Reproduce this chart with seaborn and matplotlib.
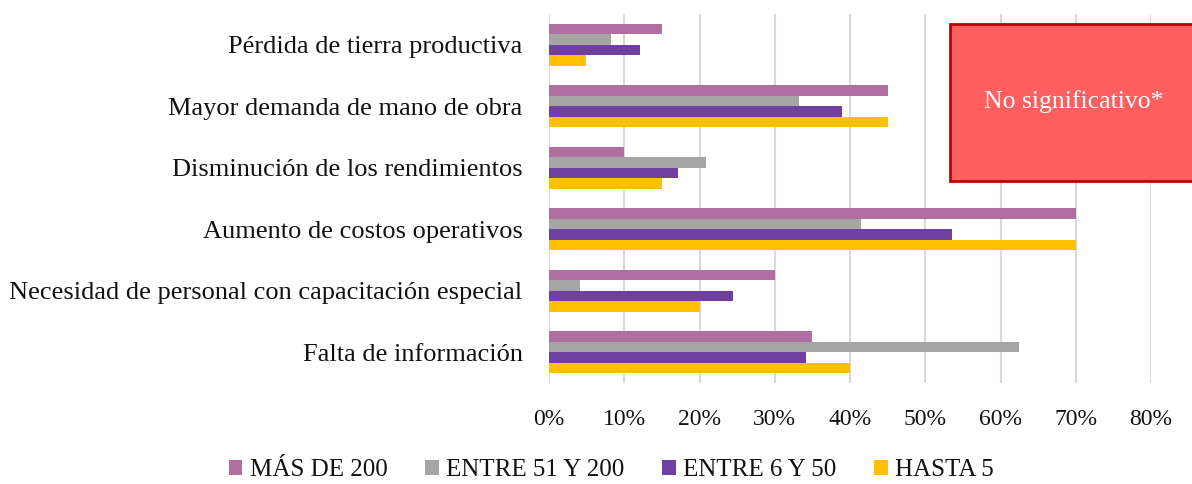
import matplotlib
matplotlib.use('Agg')
import matplotlib.pyplot as plt
import seaborn as sns
import pandas as pd
from matplotlib.patches import Rectangle
from matplotlib.ticker import PercentFormatter

categorias = ['Pérdida de tierra productiva',
              'Mayor demanda de mano de obra',
              'Disminución de los rendimientos',
              'Aumento de costos operativos',
              'Necesidad de personal con capacitación especial',
              'Falta de información']
series = ['MÁS DE 200', 'ENTRE 51 Y 200', 'ENTRE 6 Y 50', 'HASTA 5']
mas_200 = [0.15, 0.45, 0.10, 0.70, 0.30, 0.35]
entre_51_200 = [0.082, 0.332, 0.208, 0.415, 0.041, 0.625]
entre_6_50 = [0.121, 0.39, 0.171, 0.536, 0.244, 0.342]
hasta_5 = [0.049, 0.45, 0.15, 0.70, 0.20, 0.40]
colores = ['#B06FA0', '#A5A5A5', '#7040A0', '#FFC000']

df = pd.DataFrame({'categoria': categorias * 4,
                   'serie': sum([[s] * len(categorias) for s in series], []),
                   'valor': mas_200 + entre_51_200 + entre_6_50 + hasta_5})

sns.set_style('white')
plt.rcParams['font.family'] = ['Liberation Serif', 'DejaVu Serif']
plt.rcParams['text.color'] = '#111111'
plt.rcParams['xtick.color'] = '#111111'
plt.rcParams['ytick.color'] = '#111111'

fig = plt.figure(figsize=(11.92, 4.84), dpi=100)
ax = fig.add_axes([549 / 1192, 1 - 383 / 484, (1151 - 549) / 1192, (383 - 14) / 484])

sns.barplot(data=df, y='categoria', x='valor', hue='serie', order=categorias,
            hue_order=series, palette=colores, width=0.68, gap=0, orient='h',
            saturation=1, linewidth=0, ax=ax, legend=True)

ax.set_xlim(0, 0.8)
ax.set_xticks([i / 10 for i in range(9)])
ax.xaxis.set_major_formatter(PercentFormatter(1.0, decimals=0))
ax.grid(axis='x', color='#D9D9D9', linewidth=1.5)
ax.set_axisbelow(True)
for s in ax.spines.values():
    s.set_visible(False)
ax.tick_params(axis='x', length=0, pad=19, labelsize=17)
ax.tick_params(axis='y', length=0, pad=19, labelsize=19)
ax.set_xlabel('')
ax.set_ylabel('')

handles, labels = ax.get_legend_handles_labels()
ax.legend_.remove()
fig.legend(handles, labels, loc='center', bbox_to_anchor=(0.513, 1 - 470 / 484), ncol=4,
           frameon=False, fontsize=18, handlelength=0.55, handleheight=0.55,
           handletextpad=0.3, columnspacing=1.5)

fig.patches.append(Rectangle((950 / 1192, 1 - 181 / 484), 260 / 1192, 157 / 484,
                             transform=fig.transFigure, facecolor='#FF5F5F',
                             edgecolor='#C00000', linewidth=2))
fig.text(1074 / 1192, 1 - 102 / 484, 'No significativo*', color='white',
         fontsize=18.5, ha='center', va='center')

fig.savefig('out.png', dpi=100)
